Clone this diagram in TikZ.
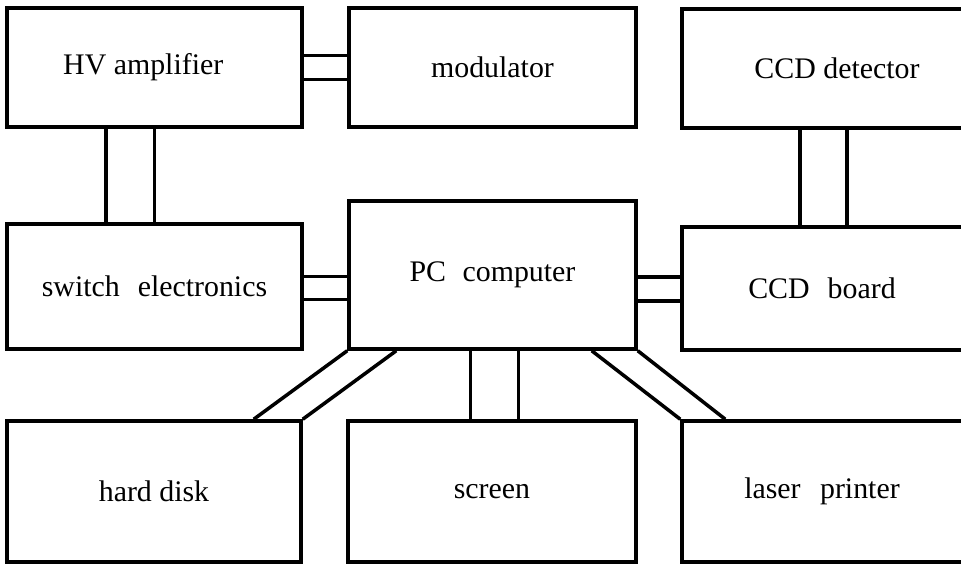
\documentclass[tikz,border=0pt]{standalone}
\usepackage{fontspec}
\setmainfont{Liberation Serif}
\begin{document}
\begin{tikzpicture}[
    unit/.style={draw, line width=2pt, rectangle, inner sep=0pt, font=\fontsize{17}{20}\selectfont},
    link/.style={line width=2pt}
]
\useasboundingbox (0,0) rectangle (19.22,11.3);
\clip (0,0) rectangle (19.22,11.3);
\node[unit, minimum width=5.9cm, minimum height=2.38cm] (hv) at (3.09,9.95) {\hspace*{-0.45cm}HV amplifier};
\node[unit, minimum width=5.74cm, minimum height=2.38cm] (mod) at (9.85,9.95) {modulator};
\node[unit, minimum width=6.2cm, minimum height=2.38cm] (det) at (16.74,9.93) {CCD detector};
\node[unit, minimum width=5.9cm, minimum height=2.5cm] (sw) at (3.09,5.57) {switch\hspace{0.35em} electronics};
\node[unit, minimum width=5.74cm, minimum height=2.96cm] (pc) at (9.85,5.8) {PC\hspace{0.3em} computer};
\node[unit, minimum width=6.2cm, minimum height=2.46cm] (board) at (16.74,5.53) {\hspace*{-0.6cm}CCD\hspace{0.35em} board};
\node[unit, minimum width=5.88cm, minimum height=2.82cm] (hd) at (3.08,1.47) {hard disk};
\node[unit, minimum width=5.76cm, minimum height=2.82cm] (scr) at (9.84,1.47) {screen};
\node[unit, minimum width=6.2cm, minimum height=2.82cm] (prn) at (16.74,1.47) {\hspace*{-0.6cm}laser\hspace{0.4em} printer};

\draw[link] ([yshift=0.24cm]hv.east) -- ([yshift=0.24cm]hv.east -| mod.west);
\draw[link] ([yshift=-0.24cm]hv.east) -- ([yshift=-0.24cm]hv.east -| mod.west);
\draw[link] ([xshift=-0.97cm]hv.south) -- ([xshift=-0.97cm]hv.south |- sw.north);
\draw[link] (hv.south) -- (hv.south |- sw.north);
\draw[link] ([yshift=0.2cm]sw.east) -- ([yshift=0.2cm]sw.east -| pc.west);
\draw[link] ([yshift=-0.26cm]sw.east) -- ([yshift=-0.26cm]sw.east -| pc.west);
\draw[link] ([yshift=0.23cm]board.west -| pc.east) -- ([yshift=0.23cm]board.west);
\draw[link] ([yshift=-0.25cm]board.west -| pc.east) -- ([yshift=-0.25cm]board.west);
\draw[link] ([xshift=-0.74cm]det.south) -- ([xshift=-0.74cm]det.south |- board.north);
\draw[link] ([xshift=0.2cm]det.south) -- ([xshift=0.2cm]det.south |- board.north);
\draw[link] ([xshift=-0.44cm]pc.south) -- ([xshift=-0.44cm]pc.south |- scr.north);
\draw[link] ([xshift=0.52cm]pc.south) -- ([xshift=0.52cm]pc.south |- scr.north);
\draw[link] (pc.south west) -- ([xshift=-0.98cm]hd.north east);
\draw[link] ([xshift=0.98cm]pc.south west) -- (hd.north east);
\draw[link] ([xshift=-0.92cm]pc.south east) -- (prn.north west);
\draw[link] (pc.south east) -- ([xshift=0.9cm]prn.north west);
\end{tikzpicture}
\end{document}
